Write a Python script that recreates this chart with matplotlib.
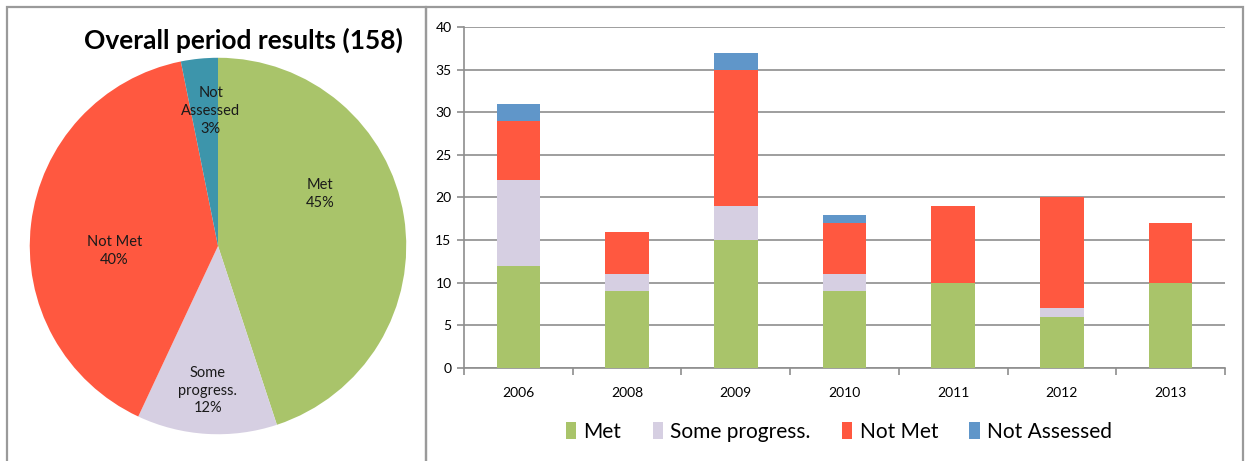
import numpy as np
import matplotlib.pyplot as plt
from matplotlib.patches import Rectangle

plt.rcParams['font.family'] = ['Lato', 'DejaVu Sans']

# data
years = ['2006', '2008', '2009', '2010', '2011', '2012', '2013']
met = [12, 9, 15, 9, 10, 6, 10]
some_progress = [10, 2, 4, 2, 0, 1, 0]
not_met = [7, 5, 16, 6, 9, 13, 7]
not_assessed = [2, 0, 2, 1, 0, 0, 0]

series_names = ['Met', 'Some progress.', 'Not Met', 'Not Assessed']
bar_colors = ['#a9c46a', '#d6cfe2', '#ff5840', '#6096c9']
pie_colors = ['#a9c46a', '#d6cfe2', '#ff5840', '#3d95ab']

W, H = 1248, 461
fig = plt.figure(figsize=(W / 100, H / 100), dpi=100)

def fx(px):
    return px / W

def fy(py):
    return 1 - py / H

# panel frames
fig.add_artist(Rectangle((fx(7), fy(475)), fx(426 - 7), fy(7) - fy(475),
                         transform=fig.transFigure, fill=False,
                         edgecolor='#9a9a9a', lw=1.6))
fig.add_artist(Rectangle((fx(426), fy(475)), fx(1243 - 426), fy(7) - fy(475),
                         transform=fig.transFigure, fill=False,
                         edgecolor='#9a9a9a', lw=1.6))

# ---- pie ----
totals = [sum(met), sum(some_progress), sum(not_met), sum(not_assessed)]
cx, cy, r = 218, 246, 192
axp = fig.add_axes([fx(cx - r), fy(cy + r), fx(2 * r), fy(cy - r) - fy(cy + r)])
wedges, _ = axp.pie(totals, colors=pie_colors, startangle=90, counterclock=False,
                    radius=1, wedgeprops=dict(linewidth=0))
axp.set_xlim(-1.02, 1.02)
axp.set_ylim(-1.02, 1.02)
axp.set_aspect('auto')
axp.axis('off')

pct = [round(100 * t / sum(totals)) for t in totals]
pie_labels = ['Met\n{}%', 'Some\nprogress.\n{}%', 'Not Met\n{}%', 'Not\nAssessed\n{}%']
# label spots (radius, angle in degrees) as Excel placed them
label_spots = [(0.61, 27), (0.77, -94), (0.55, 183), (0.72, 93)]
for lab, p, (rr, ang) in zip(pie_labels, pct, label_spots):
    a = np.deg2rad(ang)
    axp.text(rr * np.cos(a), rr * np.sin(a), lab.format(p), ha='center', va='center',
             fontsize=10.5, linespacing=1.35, color='#1a1a1a')

fig.text(fx(403), fy(40), 'Overall period results (158)', ha='right', va='center',
         fontsize=19, fontweight='bold')

# ---- stacked bars ----
ax = fig.add_axes([fx(464), fy(368), fx(1225 - 464), fy(27) - fy(368)])
x = np.arange(len(years))
bottom = np.zeros(len(years))
for vals, name, col in zip([met, some_progress, not_met, not_assessed], series_names, bar_colors):
    ax.bar(x, vals, width=0.4, bottom=bottom, color=col, label=name, zorder=3)
    bottom += np.array(vals)

ax.set_xlim(-0.5, len(years) - 0.5)
ax.set_ylim(0, 40)
ax.set_yticks(range(0, 41, 5))
ax.yaxis.grid(True, color='#8e8e8e', lw=1.2, zorder=0)
ax.set_axisbelow(True)
ax.set_xticks(x)
ax.set_xticklabels(years, fontsize=10)
ax.tick_params(axis='x', which='major', length=0, pad=14)
ax.set_xticks(np.arange(-0.5, len(years), 1), minor=True)
ax.tick_params(axis='x', which='minor', length=5, color='#8e8e8e', width=1.2, direction='out')
ax.tick_params(axis='y', length=5, color='#8e8e8e', width=1.2, labelsize=10, pad=4)
for s in ['top', 'right']:
    ax.spines[s].set_visible(False)
for s in ['left', 'bottom']:
    ax.spines[s].set_color('#8e8e8e')
    ax.spines[s].set_linewidth(1.2)

leg = fig.legend(loc='center', bbox_to_anchor=(fx(839), fy(432)), ncol=4, frameon=False,
                 fontsize=15, handlelength=0.5, handleheight=0.9, handletextpad=0.35,
                 columnspacing=1.5)

fig.savefig('out.png', dpi=100)
